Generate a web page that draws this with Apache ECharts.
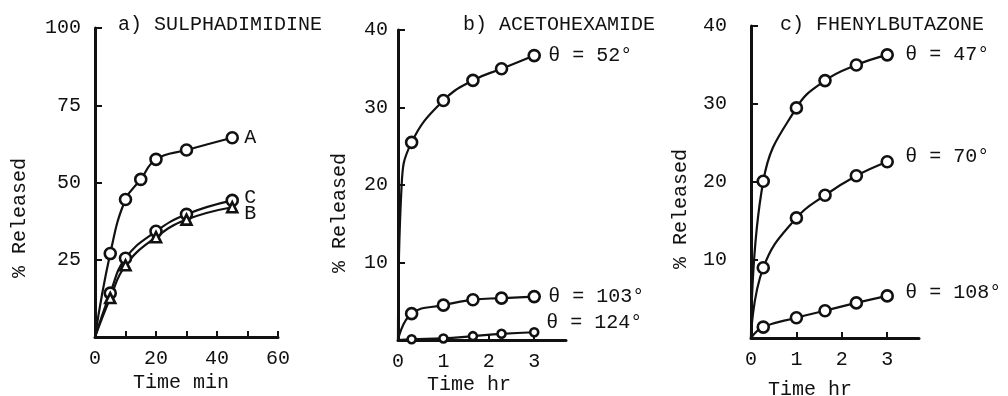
<!DOCTYPE html>
<html>
<head>
<meta charset="utf-8">
<script src="https://cdn.jsdelivr.net/npm/echarts@6/dist/echarts.min.js"></script>
<style>
    html, body {margin: 0; padding: 0; background: #fff;}
    #chart {width: 1008px; height: 396px;}
</style>
</head>
<body>
<div id="chart"></div>
<script>
// a) sulphadimidine, time in minutes
const minutesA = [5, 10, 15, 20, 30, 45];
const releasedA = [27, 44.5, 51, 57.5, 60.5, 64.5];
const minutesBC = [5, 10, 20, 30, 45];
const releasedB = [12.6, 23.2, 32.3, 38, 42];
const releasedC = [14.2, 25.5, 34.2, 39.7, 44.2];

// b) acetohexamide, time in hours
const hoursAceto = [0.3, 1, 1.65, 2.28, 3];
const aceto52 = [25.5, 30.9, 33.5, 35, 36.7];
const aceto103 = [3.4, 4.5, 5.2, 5.4, 5.6];
const aceto124 = [0.1, 0.2, 0.5, 0.8, 1.0];
const aceto52Rise = [0.08, 20]; // curve passes here before first point

// c) phenylbutazone, time in hours
const hoursPhenyl = [0.27, 1, 1.63, 2.32, 3];
const phenyl47 = [20.1, 29.5, 33, 35, 36.3];
const phenyl70 = [9, 15.4, 18.3, 20.8, 22.6];
const phenyl108 = [1.4, 2.6, 3.5, 4.5, 5.4];

const ticksMin = [0, 20, 40, 60];

const FONT = "Liberation Mono";
const INK = "#111";

function points(xs, ys, extra) {
    const out = [{value: [0, 0], symbol: "none"}];
    if (extra) out.push({value: extra, symbol: "none"});
    for (let i = 0; i < xs.length; i++) out.push([xs[i], ys[i]]);
    return out;
}

function curve(name, idx, data, opts) {
    opts = opts || {};
    return {
        name: name,
        type: "line",
        xAxisIndex: idx,
        yAxisIndex: idx,
        data: data,
        smooth: 0.45,
        symbol: opts.symbol || "circle",
        symbolSize: opts.size || 11,
        showAllSymbol: true,
        lineStyle: {color: INK, width: 2.2},
        itemStyle: {color: "#fff", borderColor: INK, borderWidth: 2.6},
        z: 3,
        endLabel: {
            show: true,
            formatter: "{a}",
            color: INK,
            fontFamily: FONT,
            fontSize: 20,
            distance: opts.dist || 12,
            offset: opts.offset || [0, 0]
        },
        animation: false
    };
}

function xAxisOf(idx, max, interval, labelFn) {
    return {
        type: "value",
        gridIndex: idx,
        min: 0,
        max: max,
        interval: interval,
        splitLine: {show: false},
        axisLine: {show: true, onZero: false, lineStyle: {color: INK, width: 3}},
        axisTick: {show: true, inside: true, length: 6, lineStyle: {color: INK, width: 2}},
        axisLabel: {
            color: INK, fontFamily: FONT, fontSize: 20, margin: 12,
            showMaxLabel: labelFn ? true : false,
            formatter: labelFn || (v => String(v))
        }
    };
}

function yAxisOf(idx, max, interval, margin) {
    return {
        type: "value",
        gridIndex: idx,
        min: 0,
        max: max,
        interval: interval,
        splitLine: {show: false},
        axisLine: {show: true, onZero: false, lineStyle: {color: INK, width: 3}},
        axisTick: {show: true, inside: true, length: 7, lineStyle: {color: INK, width: 2}},
        axisLabel: {
            color: INK, fontFamily: FONT, fontSize: 20, margin: margin,
            formatter: v => (v === 0 ? "" : String(v))
        }
    };
}

function text(str, x, y, rot) {
    return {
        type: "text",
        x: x,
        y: y,
        rotation: rot || 0,
        style: {
            text: str,
            fill: INK,
            font: "20px '" + FONT + "'",
            align: rot ? "center" : "left",
            verticalAlign: "middle"
        }
    };
}

const chart = echarts.init(document.getElementById("chart"), null, {renderer: "canvas"});

chart.setOption({
    backgroundColor: "#fff",
    animation: false,
    grid: [
        {left: 95, top: 28, width: 183, height: 309},
        {left: 398, top: 30, width: 168, height: 310},
        {left: 751, top: 26, width: 168, height: 312}
    ],
    xAxis: [
        xAxisOf(0, 60, 10, v => (ticksMin.indexOf(v) >= 0 ? String(v) : "")),
        xAxisOf(1, 3.7, 1),
        xAxisOf(2, 3.7, 1)
    ],
    yAxis: [
        yAxisOf(0, 100, 25, 14),
        yAxisOf(1, 40, 10, 10),
        yAxisOf(2, 40, 10, 24)
    ],
    graphic: [
        text("a) SULPHADIMIDINE", 118, 25),
        text("b) ACETOHEXAMIDE", 463, 25),
        text("c) FHENYLBUTAZONE", 780, 25),
        text("% Released", 20, 218, Math.PI / 2),
        text("% Released", 340, 213, Math.PI / 2),
        text("% Released", 681, 209, Math.PI / 2),
        text("Time min", 133, 383),
        text("Time hr", 427, 385),
        text("Time hr", 768, 390)
    ],
    series: [
        curve("A", 0, points(minutesA, releasedA)),
        curve("C", 0, points(minutesBC, releasedC), {offset: [0, -3]}),
        curve("B", 0, points(minutesBC, releasedB), {symbol: "triangle", size: 10, offset: [0, 6]}),
        curve("θ = 52°", 1, points(hoursAceto, aceto52, aceto52Rise), {dist: 14}),
        curve("θ = 103°", 1, points(hoursAceto, aceto103), {dist: 14}),
        curve("θ = 124°", 1, points(hoursAceto, aceto124), {dist: 12, size: 8, offset: [0, -10]}),
        curve("θ = 47°", 2, points(hoursPhenyl, phenyl47), {dist: 18}),
        curve("θ = 70°", 2, points(hoursPhenyl, phenyl70), {dist: 18, offset: [0, -5]}),
        curve("θ = 108°", 2, points(hoursPhenyl, phenyl108), {dist: 18, offset: [0, -3]})
    ]
});
</script>
</body>
</html>
